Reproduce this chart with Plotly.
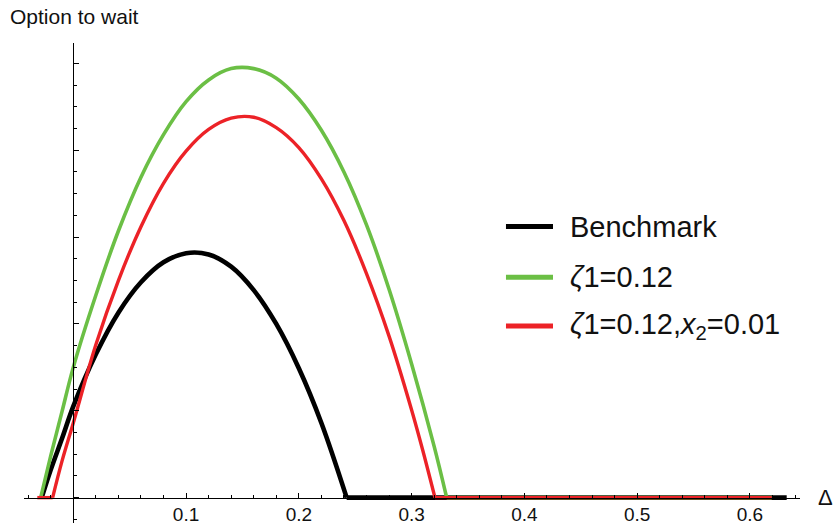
import plotly.graph_objects as go

# Option value curves (Δ, value) on the part where the option is positive
bench_x = [-0.028, -0.02, -0.01, 0.0, 0.02, 0.04, 0.06, 0.08, 0.10, 0.12, 0.14, 0.16, 0.18, 0.20, 0.22, 0.2424]
bench_y = [0.0, 0.32, 0.68, 1.05, 1.65, 2.13, 2.48, 2.71, 2.815, 2.80, 2.66, 2.39, 2.00, 1.49, 0.86, 0.0]

zeta_x = [-0.0289, -0.02, -0.01, 0.0, 0.02, 0.04, 0.06, 0.08, 0.10, 0.12, 0.14, 0.16,
          0.18, 0.20, 0.22, 0.24, 0.26, 0.28, 0.30, 0.32, 0.3311]
zeta_y = [0.0, 0.48, 0.99, 1.50, 2.33, 3.07, 3.69, 4.18, 4.56, 4.81, 4.94, 4.94,
          4.83, 4.59, 4.23, 3.75, 3.14, 2.40, 1.54, 0.59, 0.0]

zx2_x = [-0.0183, -0.01, 0.0, 0.02, 0.04, 0.06, 0.08, 0.10, 0.12, 0.14, 0.16,
         0.18, 0.20, 0.22, 0.24, 0.26, 0.28, 0.30, 0.31, 0.3207]
zx2_y = [0.0, 0.42, 0.86, 1.76, 2.50, 3.12, 3.62, 3.99, 4.24, 4.37, 4.38,
         4.26, 4.03, 3.67, 3.19, 2.58, 1.86, 1.01, 0.54, 0.0]

# Flat (zero-valued) stretches of each curve: (start Δ, end Δ)
bench_flat = [(0.2424, 0.6326)]
zeta_flat = [(0.3311, 0.6193)]
zx2_flat = [(-0.0319, -0.0183), (0.3207, 0.6193)]

# Axis ticks
x_tick_vals = [0.1, 0.2, 0.3, 0.4, 0.5, 0.6]
x_tick_text = ["0.1", "0.2", "0.3", "0.4", "0.5", "0.6"]
y_tick_vals = [0, 1, 2, 3, 4, 5]

series = [
    ("Benchmark", bench_x, bench_y, bench_flat, "#000000", 4.6),
    ("<i>ζ</i>1=0.12", zeta_x, zeta_y, zeta_flat, "#6bbf45", 3.6),
    ("<i>ζ</i>1=0.12,<i>x</i><sub>2</sub>=0.01", zx2_x, zx2_y, zx2_flat, "#ec2227", 3.4),
]

x_range = [-0.0437, 0.6444]
y_range = [-0.292, 5.235]

fig = go.Figure()
for name, xs, ys, flats, color, width in series:
    for x0, x1 in flats:
        fig.add_trace(go.Scatter(x=[x0, x1], y=[0, 0], mode="lines",
                                 line=dict(color=color, width=width),
                                 showlegend=False, hoverinfo="skip"))
    fig.add_trace(go.Scatter(x=xs, y=ys, mode="lines", name=name,
                             line=dict(color=color, width=width, shape="spline", smoothing=1.0),
                             showlegend=False))

font = "Liberation Sans, Arial, sans-serif"

# Legend drawn as sample lines plus labels
legend_rows = [0.6176, 0.5118, 0.4102]
for (name, _, _, _, color, width), ry in zip(series, legend_rows):
    fig.add_shape(type="line", xref="paper", yref="paper",
                  x0=0.6211, x1=0.6817, y0=ry, y1=ry,
                  line=dict(color=color, width=5))
    fig.add_annotation(xref="paper", yref="paper", x=0.7015, y=ry, text=name,
                       showarrow=False, xanchor="left", yanchor="middle",
                       font=dict(family=font, size=29, color="#111111"))

fig.add_annotation(xref="paper", yref="paper", x=-0.02, y=1.056, text="Option to wait",
                   showarrow=False, xanchor="left", yanchor="middle",
                   font=dict(family=font, size=21, color="#111111"))
fig.add_annotation(xref="paper", yref="y", x=1.0335, y=0, text="Δ",
                   showarrow=False, xanchor="center", yanchor="middle",
                   font=dict(family=font, size=22, color="#111111"))

fig.update_layout(
    width=835, height=528,
    margin=dict(l=24, r=35, t=43, b=3),
    plot_bgcolor="white", paper_bgcolor="white",
    xaxis=dict(range=x_range, anchor="free",
               position=(0 - y_range[0]) / (y_range[1] - y_range[0]),
               showgrid=False, zeroline=False, showline=True, linecolor="black", linewidth=1,
               tickmode="array", tickvals=x_tick_vals, ticktext=x_tick_text,
               ticks="inside", ticklen=5, tickcolor="black", tickwidth=1,
               minor=dict(dtick=0.02, tick0=0, ticks="inside", ticklen=3, tickcolor="black"),
               tickfont=dict(family=font, size=19, color="#111111")),
    yaxis=dict(range=y_range, anchor="free",
               position=(0 - x_range[0]) / (x_range[1] - x_range[0]),
               showgrid=False, zeroline=False, showline=True, linecolor="black", linewidth=1,
               tickmode="array", tickvals=y_tick_vals, showticklabels=False,
               ticks="inside", ticklen=5, tickcolor="black", tickwidth=1,
               minor=dict(dtick=0.25, tick0=0, ticks="inside", ticklen=3, tickcolor="black")),
)

fig.write_html("out.html")
